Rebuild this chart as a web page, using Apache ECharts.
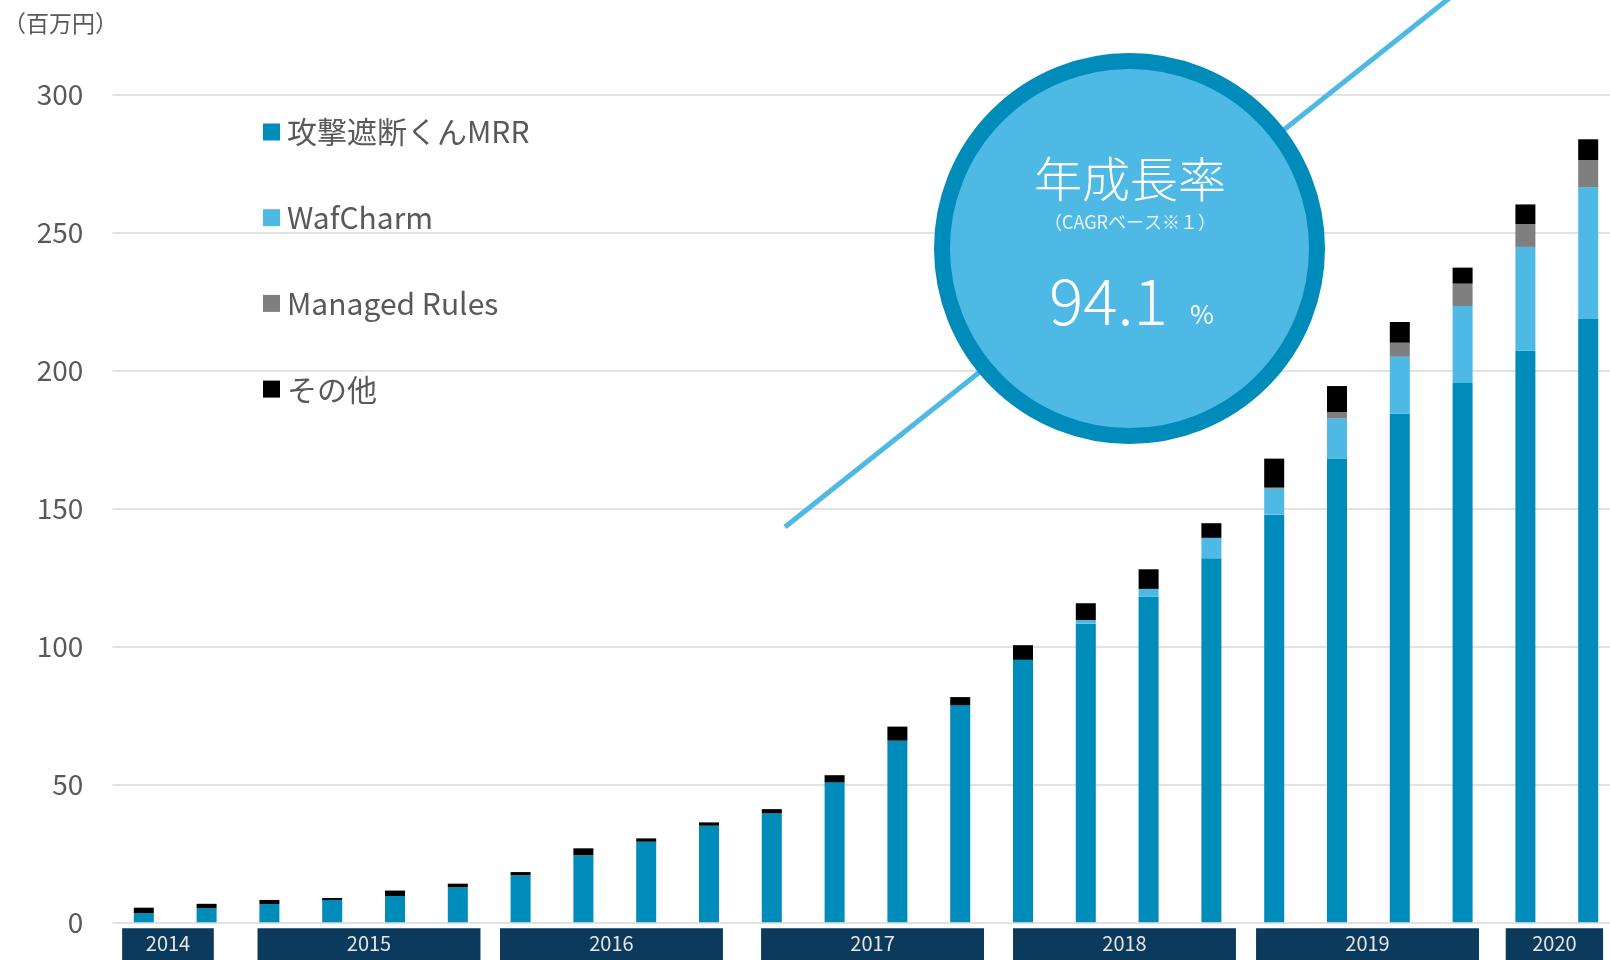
<!DOCTYPE html>
<html>
<head>
<meta charset="utf-8">
<script src="https://cdn.jsdelivr.net/npm/echarts@6/dist/echarts.min.js"></script>
<style>
html,body{margin:0;padding:0;background:#fff;}
#chart{width:1610px;height:960px;}
</style>
</head>
<body>
<div id="chart"></div>
<script>
// ---- data ----
const categories = ['2014-3Q','2014-4Q','2015-1Q','2015-2Q','2015-3Q','2015-4Q','2016-1Q','2016-2Q','2016-3Q','2016-4Q','2017-1Q','2017-2Q','2017-3Q','2017-4Q','2018-1Q','2018-2Q','2018-3Q','2018-4Q','2019-1Q','2019-2Q','2019-3Q','2019-4Q','2020-1Q','2020-2Q'];
const mrr     = [3.3,5.1,6.6,8.1,9.5,12.7,17.0,24.3,29.2,35.0,39.5,50.7,65.8,78.7,95.1,108.2,117.9,131.9,147.7,168.0,184.3,195.4,207.1,218.6];
const wafCharm= [0,0,0,0,0,0,0,0,0,0,0,0,0,0,0,1.3,2.9,7.4,9.4,14.5,20.6,27.9,37.6,47.7];
const managed = [0,0,0,0,0,0,0,0,0,0,0,0,0,0,0,0,0,0,0.4,2.4,5.1,8.1,8.3,9.9];
const others  = [2.0,1.6,1.5,0.7,2.0,1.3,1.2,2.5,1.2,1.2,1.5,2.6,5.1,2.9,5.3,6.1,7.1,5.3,10.5,9.4,7.5,5.8,7.1,7.5];
const seriesNames = ['攻撃遮断くんMRR','WafCharm','Managed Rules','その他'];
const years      = ['2014','2015','2016','2017','2018','2019','2020'];
const yearStart  = [0,2,6,10,14,18,22];
const yearEnd    = [1,5,9,13,17,21,23];
const yTicks = [0,50,100,150,200,250,300];
const cagrTitle = '年成長率';
const cagrNote = '（CAGRベース※１）';
const cagrValue = '94.1';
const unitLabel = '（百万円）';

// layout tweaks for the year boxes (fraction of one category band)
const boxShift = [-0.115, 0.086, -0.053, 0.104, 0.116, -0.014, -0.038];
const boxPad   = [0.23, 0.275, 0.275, 0.275, 0.275, 0.275, 0.275];

const FONT = '"Noto Sans CJK JP","Noto Sans",sans-serif';
const colors = ['#008CBA','#4FB9E6','#7F7F7F','#000000'];

const chart = echarts.init(document.getElementById('chart'));
const seriesData = [mrr, wafCharm, managed, others];

const option = {
  animation: false,
  backgroundColor: '#ffffff',
  textStyle: { fontFamily: FONT },
  grid: { left: 112.4, top: 94.3, width: 1507.2, height: 828, containLabel: false, outerBoundsMode: 'none' },
  legend: {
    orient: 'vertical', left: 263, top: 117, padding: 0,
    itemWidth: 17, itemHeight: 17, itemGap: 55.7, icon: 'rect',
    data: seriesNames,
    textStyle: { fontSize: 30, lineHeight: 30, color: '#595959', fontFamily: FONT, padding: [0,0,0,2] }
  },
  xAxis: {
    type: 'category', data: categories,
    axisLine: { show: false }, axisTick: { show: false }, axisLabel: { show: false }
  },
  yAxis: {
    type: 'value', min: yTicks[0], max: yTicks[yTicks.length-1], interval: 50,
    axisLine: { show: false }, axisTick: { show: false },
    axisLabel: { fontSize: 28, color: '#595959', margin: 29, fontFamily: FONT, padding: [0,0,6,0] },
    splitLine: { lineStyle: { color: '#D9D9D9', width: 1.5 } }
  },
  series: seriesNames.map((n, i) => ({
    name: n, type: 'bar', stack: 'total', barWidth: 20,
    itemStyle: { color: colors[i] },
    data: seriesData[i]
  })).concat([{
    type: 'custom', name: 'years', clip: false, silent: true,
    data: years.map((y, i) => [yearStart[i], yearEnd[i]]),
    renderItem: function (params, api) {
      const i = params.dataIndex;
      const a = api.coord([yearStart[i], 0]);
      const b = api.coord([yearEnd[i], 0]);
      const band = api.size([1, 0])[0];
      const pad = band * boxPad[i];
      const shift = band * boxShift[i];
      const cs = params.coordSys;
      const top = cs.y + cs.height + 6;
      const x0 = a[0] - pad + shift, x1 = b[0] + pad + shift;
      return {
        type: 'group',
        children: [
          { type: 'rect', shape: { x: x0, y: top, width: x1 - x0, height: 40 }, style: { fill: '#0B3A5D' } },
          { type: 'text', style: { text: years[i], x: (x0 + x1) / 2, y: top + 15.5, align: 'center', verticalAlign: 'middle', fill: '#E6E6E6', font: '20px ' + FONT } }
        ]
      };
    }
  }]),
  graphic: [
    { type: 'text', z: 100, style: { text: unitLabel, x: 3, y: 23, align: 'left', verticalAlign: 'middle', fill: '#595959', font: '23px ' + FONT } },
    { type: 'line', z: 100, shape: { x1: 785, y1: 527, x2: 1452, y2: -4 }, style: { stroke: '#4FB9E6', lineWidth: 5 } },
    { type: 'circle', z: 101, shape: { cx: 1129.5, cy: 248.5, r: 187.5 }, style: { fill: '#4FB9E6', stroke: '#008CBA', lineWidth: 16 } },
    { type: 'text', z: 102, style: { text: cagrTitle, x: 1130, y: 179, align: 'center', verticalAlign: 'middle', fill: '#ffffff', font: '300 48px ' + FONT } },
    { type: 'text', z: 102, style: { text: cagrNote, x: 1130, y: 222, align: 'center', verticalAlign: 'middle', fill: '#EAF6FB', font: '18px ' + FONT } },
    { type: 'text', z: 102, style: { text: cagrValue, x: 1049, y: 301, align: 'left', verticalAlign: 'middle', fill: '#ffffff', font: '300 64px ' + FONT } },
    { type: 'text', z: 102, style: { text: '%', x: 1190, y: 314, align: 'left', verticalAlign: 'middle', fill: '#ffffff', font: '26px ' + FONT } }
  ]
};
chart.setOption(option);
</script>
</body>
</html>
